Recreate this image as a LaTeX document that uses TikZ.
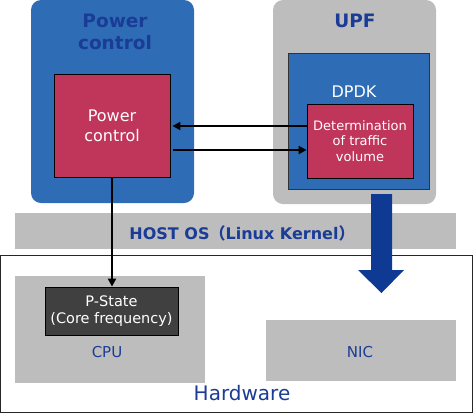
\documentclass[tikz,border=0pt]{standalone}
\usepackage{fontspec}
\setmainfont{DejaVu Sans}
\newfontfamily\cjk{Noto Sans CJK JP}
\usetikzlibrary{arrows.meta}
\definecolor{mblue}{HTML}{2E6DB5}
\definecolor{tblue}{HTML}{1A3C96}
\definecolor{mred}{HTML}{C0355A}
\definecolor{mgray}{HTML}{BDBDBD}
\definecolor{darrow}{HTML}{0E3A94}
\definecolor{pgray}{HTML}{404040}
\tikzset{
  rbox/.style={rectangle, rounded corners=10pt, inner sep=0pt},
  flatbox/.style={rectangle, inner sep=0pt},
  redbox/.style={flatbox, fill=mred, draw=black, line width=0.8pt, text=white, align=center},
  arr/.style={line width=2pt, -{Triangle[length=8pt,width=8pt]}},
  lbl/.style={text=tblue, inner sep=0pt}
}
\begin{document}
\begin{tikzpicture}[x=1pt,y=-1pt]
\useasboundingbox (0,0) rectangle (473,413);
% top boxes
\node[rbox, fill=mblue, minimum width=163, minimum height=203] (pcouter) at (112.5,101.5) {};
\node[lbl, font=\fontsize{18.5}{22}\selectfont\bfseries, align=center] (pctitle) at (115,32) {Power\\control};
\node[rbox, fill=mgray, minimum width=163, minimum height=204] (upf) at (354.5,102) {};
\node[lbl, font=\fontsize{18.5}{22}\selectfont\bfseries] (upftitle) at (355,21) {UPF};
\node[flatbox, fill=mblue, draw=black!80, line width=0.8pt, minimum width=141, minimum height=136] (dpdk) at (358.5,121) {};
\node[text=white, inner sep=0pt, font=\fontsize{16}{19}\selectfont] (dpdklbl) at (354,92) {DPDK};
\node[redbox, minimum width=116, minimum height=103, font=\fontsize{16}{20}\selectfont] (pc) at (112,125.5) {Power\\control};
\node[redbox, minimum width=106, minimum height=74, font=\fontsize{13}{15.2}\selectfont] (det) at (360,141) {Determination\\of traffic\\volume};
% host OS
\node[flatbox, fill=mgray, minimum width=441, minimum height=36] (host) at (235.5,231) {};
\node[lbl, font=\fontsize{16}{19}\selectfont\bfseries] (hostlbl) at (242,233) {HOST OS{\cjk （}Linux Kernel{\cjk ）}};
% hardware
\node[flatbox, fill=white, draw=black!85, line width=0.8pt, minimum width=472, minimum height=157] (hw) at (236,333.5) {};
\node[lbl, font=\fontsize{20}{24}\selectfont] (hwlbl) at (242,393) {Hardware};
\node[flatbox, fill=mgray, minimum width=190, minimum height=107] (cpu) at (110,329.5) {};
\node[lbl, font=\fontsize{15}{18}\selectfont] (cpulbl) at (107,352) {CPU};
\node[flatbox, fill=mgray, minimum width=190, minimum height=61] (nic) at (361,350.5) {};
\node[lbl, font=\fontsize{15}{18}\selectfont] (niclbl) at (360,352) {NIC};
\node[flatbox, fill=pgray, draw=black, line width=0.8pt, text=white, align=center, minimum width=133, minimum height=48, font=\fontsize{14.5}{17}\selectfont] (pstate) at (111.5,311) {P-State\\(Core frequency)};
% connectors
\coordinate (a1) at ([yshift=15pt]det.west);
\coordinate (a2) at ([yshift=-9pt]det.west);
\draw[arr] (a1) -- ([xshift=2pt]a1 -| pc.east);
\draw[arr] ([xshift=3pt]a2 -| pc.east) -- (a2);
\draw[arr] (pc.south) -- (pc.south |- pstate.north);
% block arrow
\fill[darrow] (371,194) -- (392,194) -- (392,270) -- (404,270) -- (381.5,293) -- (358,270) -- (371,270) -- cycle;
\end{tikzpicture}
\end{document}
